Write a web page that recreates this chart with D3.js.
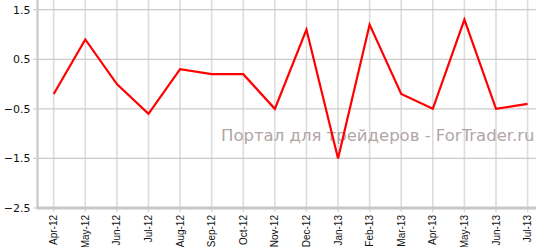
<!DOCTYPE html>
<html><head><meta charset="utf-8">
<script src="https://cdn.jsdelivr.net/npm/d3@7"></script>
<style>html,body{margin:0;padding:0;background:#fff;}svg{display:block;}</style>
</head><body>
<svg id="c" width="536" height="247"></svg>
<script>
const categories = ["Apr-12","May-12","Jun-12","Jul-12","Aug-12","Sep-12","Oct-12","Nov-12","Dec-12","Jan-13","Feb-13","Mar-13","Apr-13","May-13","Jun-13","Jul-13"];
const values = [-0.2, 0.9, 0.0, -0.6, 0.3, 0.2, 0.2, -0.5, 1.1, -1.5, 1.2, -0.2, -0.5, 1.3, -0.5, -0.4];
const yTicks = [1.5, 0.5, -0.5, -1.5, -2.5];
const watermark = "Портал для трейдеров - ForTrader.ru";

const svg = d3.select("#c");
const left = 37.5, axisY = 208, right = 536;
const x = d3.scalePoint().domain(categories).range([53.7, 527.6]);
const y = d3.scaleLinear().domain([-2.5, 1.5]).range([axisY, 9.7]);

// vertical grid
svg.append("g").selectAll("line").data(categories).join("line")
  .attr("x1", d => x(d)).attr("x2", d => x(d))
  .attr("y1", 0).attr("y2", axisY + 4)
  .attr("stroke", "#dcdcdc").attr("stroke-width", 1.6);
// horizontal grid
svg.append("g").selectAll("line").data(yTicks).join("line")
  .attr("x1", left - 4).attr("x2", right)
  .attr("y1", d => y(d)).attr("y2", d => y(d))
  .attr("stroke", "#cccccc").attr("stroke-width", 1.2);
// axes lines
svg.append("line").attr("x1", left).attr("x2", left).attr("y1", 0).attr("y2", axisY + 1)
  .attr("stroke", "#c8c8c8").attr("stroke-width", 2.2);
svg.append("line").attr("x1", left - 1).attr("x2", right).attr("y1", axisY).attr("y2", axisY)
  .attr("stroke", "#c8c8c8").attr("stroke-width", 3);

// y labels
svg.append("g").selectAll("text").data(yTicks).join("text")
  .attr("x", 30.5).attr("y", d => y(d)).attr("dy", "0.35em")
  .attr("text-anchor", "end")
  .attr("font-family", "DejaVu Sans, Verdana, sans-serif").attr("font-size", 11)
  .attr("fill", "#111").text(d => d3.format(".1f")(d));

// x labels
svg.append("g").selectAll("text").data(categories).join("text")
  .attr("transform", d => `translate(${x(d) + 3.5},${axisY + 7}) rotate(-90)`)
  .attr("text-anchor", "end")
  .attr("font-family", "Liberation Sans, Arial, sans-serif").attr("font-size", 10)
  .attr("fill", "#111").text(d => d);

// watermark
svg.append("text").attr("x", 221).attr("y", 141)
  .attr("font-family", "DejaVu Sans, Verdana, sans-serif").attr("font-size", 16.5)
  .attr("fill", "#b0a6a6").text(watermark);

// line
const line = d3.line().x((d, i) => x(categories[i])).y(d => y(d));
svg.append("path").datum(values).attr("d", line)
  .attr("fill", "none").attr("stroke", "#ff0000").attr("stroke-width", 2.2)
  .attr("stroke-linejoin", "miter");
</script>
</body></html>
